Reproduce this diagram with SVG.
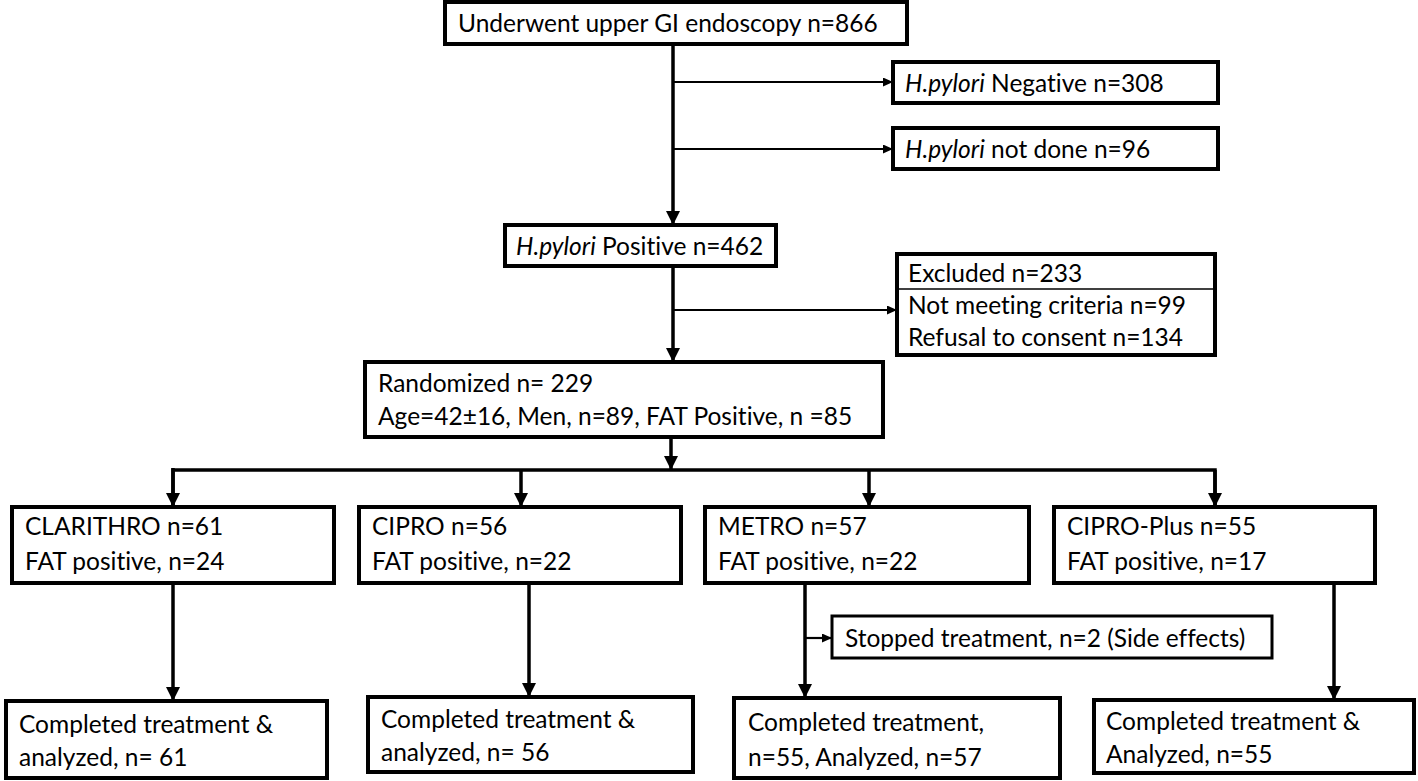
<svg xmlns="http://www.w3.org/2000/svg" width="1418" height="781" viewBox="0 0 1418 781">
<style>
.box{fill:#fff;stroke:#000;stroke-width:4}
.thin{fill:#fff;stroke:#000;stroke-width:3}
text{font-family:Lato,"Open Sans","Liberation Sans",sans-serif;font-size:24.5px;fill:#000;font-variant-ligatures:none}
.it{font-style:italic}
.main{stroke:#000;stroke-width:3.5;fill:none}
.br{stroke:#000;stroke-width:2.2;fill:none}
</style>
<defs>
<marker id="big" markerUnits="userSpaceOnUse" markerWidth="14" markerHeight="16" refX="14" refY="7" orient="auto"><path d="M0,0 L14,7 L0,14 z" fill="#000"/></marker>
<marker id="small" markerUnits="userSpaceOnUse" markerWidth="10" markerHeight="10" refX="10" refY="4.5" orient="auto"><path d="M0,0 L10,4.5 L0,9 z" fill="#000"/></marker>
</defs>
<g id="connectors">
<line class="main" x1="673" y1="44" x2="673" y2="225" marker-end="url(#big)"/>
<line class="br" x1="673" y1="82" x2="893" y2="82" marker-end="url(#small)"/>
<line class="br" x1="673" y1="149" x2="893" y2="149" marker-end="url(#small)"/>
<line class="main" x1="673" y1="266" x2="673" y2="362" marker-end="url(#big)"/>
<line class="br" x1="673" y1="310" x2="897" y2="310" marker-end="url(#small)"/>
<line class="main" x1="671" y1="437" x2="671" y2="470" marker-end="url(#big)"/>
<polyline class="main" points="173,505 173,470 1215,470 1215,505" stroke-width="4"/>
<line class="main" x1="173" y1="468" x2="173" y2="507" marker-end="url(#big)"/>
<line class="main" x1="521" y1="470" x2="521" y2="507" marker-end="url(#big)"/>
<line class="main" x1="869" y1="470" x2="869" y2="507" marker-end="url(#big)"/>
<line class="main" x1="1215" y1="470" x2="1215" y2="507" marker-end="url(#big)"/>
<line class="main" x1="173" y1="583" x2="173" y2="701" marker-end="url(#big)"/>
<line class="main" x1="529" y1="583" x2="529" y2="697" marker-end="url(#big)"/>
<line class="main" x1="805" y1="583" x2="805" y2="698" marker-end="url(#big)"/>
<line class="br" x1="805" y1="638" x2="832" y2="638" marker-end="url(#small)"/>
<line class="main" x1="1334" y1="583" x2="1334" y2="700" marker-end="url(#big)"/>
</g>
<g id="n1"><rect class="box" x="445" y="2" width="462" height="42"/><text x="458" y="32">Underwent upper GI endoscopy n=866</text></g>
<g id="n2"><rect class="box" x="893" y="62" width="325" height="41"/><text x="905" y="92"><tspan class="it">H.pylori</tspan> Negative n=308</text></g>
<g id="n3"><rect class="box" x="893" y="128" width="325" height="41"/><text x="905" y="158"><tspan class="it">H.pylori</tspan> not done n=96</text></g>
<g id="n4"><rect class="box" x="505" y="225" width="271" height="41"/><text x="516" y="255"><tspan class="it">H.pylori</tspan> Positive n=462</text></g>
<g id="n5"><rect class="box" x="897" y="254" width="318" height="101"/><line x1="897" y1="289" x2="1213" y2="289" stroke="#000" stroke-width="1.5"/><text x="908" y="282">Excluded n=233</text><text x="908" y="314">Not meeting criteria n=99</text><text x="908" y="346">Refusal to consent n=134</text></g>
<g id="n6"><rect class="box" x="365" y="362" width="518" height="75"/><text x="378" y="392">Randomized n= 229</text><text x="378" y="425">Age=42±16, Men, n=89, FAT Positive, n =85</text></g>
<g id="n7"><rect class="box" x="12" y="507" width="322" height="76"/><text x="25" y="535">CLARITHRO n=61</text><text x="25" y="570">FAT positive, n=24</text></g>
<g id="n8"><rect class="box" x="359" y="507" width="322" height="76"/><text x="372" y="535">CIPRO n=56</text><text x="372" y="570">FAT positive, n=22</text></g>
<g id="n9"><rect class="box" x="705" y="507" width="324" height="76"/><text x="718" y="535">METRO n=57</text><text x="718" y="570">FAT positive, n=22</text></g>
<g id="n10"><rect class="box" x="1054" y="507" width="321" height="76"/><text x="1067" y="535">CIPRO-Plus n=55</text><text x="1067" y="570">FAT positive, n=17</text></g>
<g id="n11"><rect class="thin" x="832" y="616" width="440" height="42"/><text x="845" y="647">Stopped treatment, n=2 (Side effects)</text></g>
<g id="n12"><rect class="box" x="6" y="701" width="321" height="77"/><text x="19" y="733">Completed treatment &amp;</text><text x="19" y="766">analyzed, n= 61</text></g>
<g id="n13"><rect class="box" x="368" y="697" width="325" height="75"/><text x="381" y="728">Completed treatment &amp;</text><text x="381" y="761">analyzed, n= 56</text></g>
<g id="n14"><rect class="box" x="734" y="698" width="326" height="80"/><text x="748" y="731">Completed treatment,</text><text x="748" y="766">n=55, Analyzed, n=57</text></g>
<g id="n15"><rect class="box" x="1094" y="700" width="320" height="73"/><text x="1106" y="730">Completed treatment &amp;</text><text x="1106" y="763">Analyzed, n=55</text></g>
</svg>
